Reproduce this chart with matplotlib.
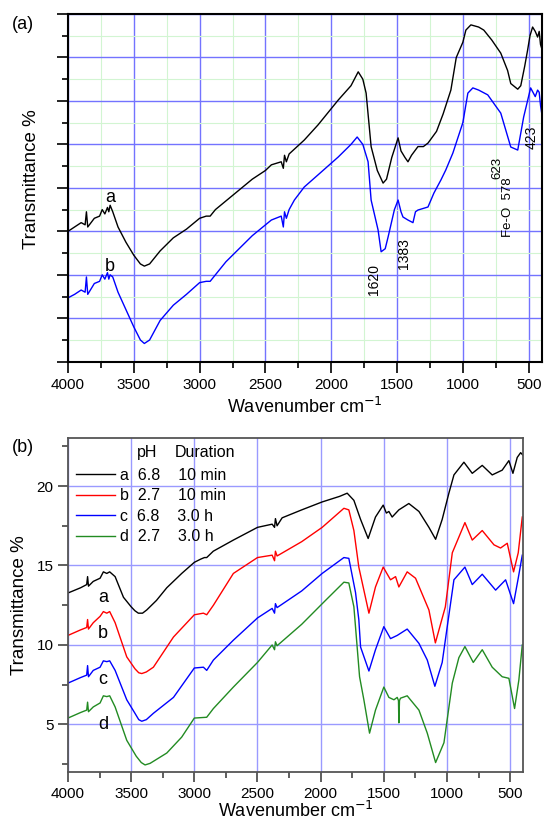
import matplotlib
matplotlib.use("Agg")
import matplotlib.pyplot as plt
from matplotlib.ticker import MultipleLocator

plt.rcParams['font.family'] = ['Liberation Sans', 'DejaVu Sans']

# ---- panel (a) data: wavenumber (cm-1) and offset transmittance (arb.)
a_wn = [4000, 3950, 3900, 3870, 3860, 3850, 3800, 3760, 3740, 3720, 3700, 3690, 3680,
        3660, 3620, 3560, 3500, 3450, 3420, 3380, 3300, 3200, 3100, 3000, 2950, 2920,
        2880, 2800, 2700, 2600, 2500, 2455, 2380, 2364, 2355, 2341, 2320, 2205, 2100,
        1947, 1850, 1795, 1760, 1735, 1697, 1650, 1606, 1580, 1540, 1492, 1470, 1440,
        1417, 1390, 1341, 1300, 1265, 1200, 1150, 1091, 1050, 1000, 977, 939, 880, 841,
        780, 712, 660, 636, 583, 560, 530, 508, 490, 470, 450, 432, 420, 410, 400]
a_T = [3.0, 3.1, 3.2, 3.15, 3.45, 3.1, 3.3, 3.35, 3.5, 3.4, 3.55, 3.45, 3.6,
       3.45, 3.1, 2.75, 2.45, 2.25, 2.2, 2.25, 2.55, 2.85, 3.05, 3.3, 3.35, 3.35,
       3.5, 3.7, 3.95, 4.2, 4.4, 4.53, 4.6, 4.45, 4.75, 4.6, 4.78, 5.1, 5.45,
       6.02, 6.35, 6.67, 6.5, 6.18, 4.95, 4.4, 4.11, 4.2, 4.7, 5.15, 4.85, 4.7,
       4.6, 4.75, 4.95, 4.95, 5.03, 5.3, 5.7, 6.25, 7.0, 7.35, 7.63, 7.75, 7.7, 7.63,
       7.4, 7.1, 6.7, 6.4, 6.27, 6.35, 6.8, 7.17, 7.5, 7.7, 7.6, 7.47, 7.6, 7.3, 7.2]

b_wn = [4000, 3950, 3900, 3870, 3860, 3850, 3800, 3760, 3740, 3720, 3700, 3690, 3680,
        3660, 3620, 3560, 3500, 3450, 3420, 3380, 3300, 3200, 3100, 3000, 2950, 2920,
        2880, 2800, 2700, 2600, 2455, 2380, 2364, 2355, 2341, 2320, 2280, 2205, 2100,
        1947, 1850, 1803, 1760, 1720, 1697, 1644, 1621, 1590, 1568, 1520, 1492, 1470,
        1455, 1417, 1379, 1360, 1341, 1265, 1220, 1167, 1130, 1076, 1000, 962, 924,
        880, 811, 712, 636, 583, 538, 485, 450, 432, 420, 410, 400]
b_T = [1.47, 1.55, 1.65, 1.6, 1.95, 1.55, 1.8, 1.85, 2.0, 1.9, 2.05, 1.9, 2.0,
       1.95, 1.6, 1.2, 0.8, 0.5, 0.42, 0.5, 0.95, 1.3, 1.55, 1.82, 1.85, 1.85,
       2.0, 2.3, 2.6, 2.9, 3.26, 3.35, 3.1, 3.45, 3.3, 3.5, 3.72, 4.02, 4.3,
       4.71, 5.0, 5.17, 5.0, 4.6, 3.72, 3.03, 2.53, 2.6, 2.87, 3.5, 3.72, 3.45,
       3.33, 3.26, 3.2, 3.45, 3.49, 3.56, 3.88, 4.18, 4.41, 4.8, 5.5, 6.18, 6.3,
       6.25, 6.14, 5.72, 4.94, 4.87, 5.63, 6.3, 6.1, 6.25, 6.2, 5.9, 5.7]

# ---- panel (b) data
pa_wn = [4000, 3900, 3852, 3845, 3838, 3800, 3746, 3720, 3693, 3670, 3627, 3561, 3500,
         3470, 3443, 3410, 3377, 3300, 3218, 3100, 3000, 2950, 2920, 2902, 2850, 2691,
         2500, 2384, 2365, 2358, 2345, 2305, 2150, 1988, 1850, 1790, 1737, 1684, 1624,
         1566, 1505, 1480, 1460, 1434, 1381, 1302, 1222, 1143, 1090, 1038, 985, 945, 866,
         800, 721, 642, 563, 510, 478, 444, 417, 400]
pa_T = [13.27, 13.6, 13.8, 14.3, 13.7, 14.0, 14.2, 14.6, 14.5, 14.6, 14.3, 13.0, 12.4,
        12.15, 12.0, 12.0, 12.2, 12.8, 13.6, 14.5, 15.2, 15.4, 15.5, 15.5, 15.9, 16.6,
        17.4, 17.6, 17.4, 17.95, 17.5, 18.0, 18.5, 19.0, 19.35, 19.55, 19.1, 17.9, 16.7,
        18.05, 18.8, 18.3, 18.4, 18.05, 18.5, 18.9, 18.4, 17.4, 16.65, 17.9, 19.55, 20.7, 21.5,
        20.8, 21.3, 20.7, 21.0, 21.6, 20.8, 21.8, 22.1, 21.95]

pb_wn = [4000, 3900, 3852, 3845, 3838, 3800, 3746, 3720, 3693, 3670, 3627, 3535, 3470,
         3440, 3416, 3380, 3324, 3165, 3000, 2928, 2902, 2849, 2691, 2500, 2384, 2365,
         2358, 2345, 2150, 1988, 1816, 1777, 1737, 1698, 1618, 1566, 1505, 1447, 1407,
         1381, 1315, 1249, 1143, 1092, 1013, 958, 858, 800, 721, 628, 576, 523, 473, 436, 404]
pb_T = [10.6, 10.95, 11.1, 11.6, 11.0, 11.4, 11.8, 12.1, 12.0, 12.1, 11.4, 9.25, 8.5,
        8.25, 8.2, 8.3, 8.6, 10.5, 11.9, 12.0, 11.9, 12.5, 14.5, 15.5, 15.65, 15.3,
        15.9, 15.6, 16.5, 17.4, 18.6, 18.5, 17.2, 14.9, 12.0, 13.65, 14.9, 14.1, 14.3,
        13.65, 14.6, 14.2, 12.2, 10.13, 12.4, 15.8, 17.7, 16.6, 17.2, 16.3, 16.1, 16.4,
        14.6, 15.8, 18.05]

pc_wn = [4000, 3900, 3852, 3845, 3838, 3800, 3746, 3720, 3693, 3670, 3627, 3535, 3470,
         3440, 3416, 3380, 3324, 3165, 3000, 2928, 2902, 2849, 2691, 2500, 2384, 2365,
         2358, 2345, 2150, 1988, 1816, 1777, 1724, 1698, 1684, 1618, 1566, 1500, 1447,
         1394, 1315, 1222, 1156, 1096, 1038, 998, 945, 858, 800, 721, 615, 536, 473, 436, 404]
pc_T = [7.6, 7.95, 8.1, 8.7, 8.0, 8.4, 8.6, 9.0, 8.95, 9.0, 8.4, 6.55, 5.7,
        5.3, 5.2, 5.3, 5.7, 6.7, 8.55, 8.6, 8.4, 9.05, 10.3, 11.7, 12.3, 12.0,
        12.6, 12.35, 13.4, 14.5, 15.5, 15.45, 13.3, 11.6, 9.87, 8.36, 9.7, 11.15, 10.4,
        10.6, 11.0, 10.1, 9.05, 7.4, 8.9, 11.15, 14.1, 14.9, 13.8, 14.45, 13.45, 14.1,
        12.6, 14.2, 15.65]

pd_wn = [4000, 3900, 3852, 3845, 3838, 3800, 3746, 3720, 3693, 3670, 3627, 3535, 3460,
         3420, 3390, 3350, 3218, 3100, 3000, 2902, 2849, 2691, 2500, 2384, 2365, 2358,
         2345, 2150, 1962, 1816, 1777, 1737, 1692, 1658, 1613, 1566, 1500, 1460, 1420,
         1394, 1384, 1381, 1376, 1368, 1315, 1222, 1156, 1090, 1024, 958, 906, 858, 792,
         721, 642, 563, 510, 465, 431, 404]
pd_T = [5.4, 5.75, 5.9, 6.4, 5.8, 6.1, 6.35, 6.8, 6.75, 6.8, 6.1, 4.0, 3.0,
        2.6, 2.45, 2.55, 3.2, 4.2, 5.4, 5.45, 6.0, 7.35, 8.9, 10.0, 9.7, 10.2,
        9.95, 11.3, 12.8, 13.95, 13.9, 12.4, 8.0, 6.55, 4.45, 5.9, 7.35, 6.7, 6.55,
        6.7, 6.5, 5.1, 6.5, 6.65, 6.8, 5.9, 4.45, 2.6, 3.85, 7.6, 9.2, 9.9, 8.9,
        9.7, 8.6, 8.0, 7.9, 6.0, 7.8, 10.0]

legend_rows = [("a", "6.8", "10 min"), ("b", "2.7", "10 min"),
               ("c", "6.8", "3.0 h"), ("d", "2.7", "3.0 h")]
colors_b = ['black', '#ff0000', '#0000ff', '#228b22']

fig = plt.figure(figsize=(5.44, 8.24), dpi=100)
axa = fig.add_axes([0.125, 0.561, 0.871, 0.422])
axb = fig.add_axes([0.125, 0.063, 0.836, 0.405])

# ---------------- panel (a)
axa.plot(a_wn, a_T, color='black', lw=1.0)
axa.plot(b_wn, b_T, color='#0000ff', lw=1.0)
axa.set_xlim(4000, 400)
axa.set_ylim(0, 8)
axa.xaxis.set_major_locator(MultipleLocator(500))
axa.xaxis.set_minor_locator(MultipleLocator(250))
axa.yaxis.set_major_locator(MultipleLocator(1))
axa.yaxis.set_minor_locator(MultipleLocator(0.5))
axa.grid(True, which='major', color='#7373ff', lw=1.0)
axa.grid(True, which='minor', color='#d2f5d2', lw=0.8)
axa.set_axisbelow(True)
axa.tick_params(axis='y', which='both', labelleft=False)
axa.tick_params(which='major', direction='out', length=8, width=1.2, labelsize=11)
axa.tick_params(which='minor', direction='out', length=4, width=1.2)
for s in axa.spines.values():
    s.set_linewidth(1.5)
axa.set_xlabel('Wavenumber cm$^{-1}$', fontsize=13, labelpad=4)
axa.set_ylabel('Transmittance %', fontsize=13.5)
axa.yaxis.set_label_coords(-0.06, 0.525)

axa.text(3682, 3.77, 'a', fontsize=13, ha='center', va='center')
axa.text(3682, 2.2, 'b', fontsize=13, ha='center', va='center')
axa.text(1674, 1.89, '1620', rotation=90, fontsize=10, ha='center', va='center')
axa.text(1447, 2.5, '1383', rotation=90, fontsize=10, ha='center', va='center')
axa.text(740, 4.45, '623', rotation=90, fontsize=9.5, ha='center', va='center')
axa.text(655, 3.55, 'Fe-O  578', rotation=90, fontsize=9.5, ha='center', va='center')
axa.text(475, 5.17, '423', rotation=90, fontsize=10, ha='center', va='center')

# ---------------- panel (b)
series_b = [(pa_wn, pa_T), (pb_wn, pb_T), (pc_wn, pc_T), (pd_wn, pd_T)]
handles = []
for (wn, T), c in zip(series_b, colors_b):
    ln, = axb.plot(wn, T, color=c, lw=1.0)
    handles.append(ln)
axb.set_xlim(4000, 400)
axb.set_ylim(2, 23)
axb.xaxis.set_major_locator(MultipleLocator(500))
axb.xaxis.set_minor_locator(MultipleLocator(250))
axb.yaxis.set_major_locator(MultipleLocator(5))
axb.yaxis.set_minor_locator(MultipleLocator(2.5))
axb.grid(True, which='major', color='#9a9aff', lw=1.0)
axb.set_axisbelow(True)
axb.tick_params(which='major', direction='out', length=7, width=1.1, labelsize=11,
                color='#333333')
axb.tick_params(which='minor', direction='out', length=4, width=1.1, color='#333333')
for s in axb.spines.values():
    s.set_linewidth(1.3)
    s.set_color('#555555')
axb.set_xlabel('Wavenumber cm$^{-1}$', fontsize=13, labelpad=0)
axb.set_ylabel('Transmittance %', fontsize=13.5, labelpad=6)

for lbl, y in zip(['a', 'b', 'c', 'd'], [13.0, 10.75, 7.8, 4.97]):
    axb.text(3723, y, lbl, fontsize=13, ha='center', va='center')

labels = ['%s  %s    %s' % r for r in legend_rows]
axb.legend(handles, labels, loc='upper left', bbox_to_anchor=(0.008, 0.926),
           frameon=False, fontsize=11.5, handlelength=2.4, handletextpad=0.3,
           labelspacing=0.34, borderaxespad=0.0, borderpad=0.3)
axb.text(0.152, 0.958, 'pH', transform=axb.transAxes, fontsize=11.5, va='center')
axb.text(0.235, 0.958, 'Duration', transform=axb.transAxes, fontsize=11.5, va='center')

fig.text(0.022, 0.970, '(a)', fontsize=13, va='center')
fig.text(0.022, 0.457, '(b)', fontsize=13, va='center')

fig.savefig('out.png', dpi=100)
